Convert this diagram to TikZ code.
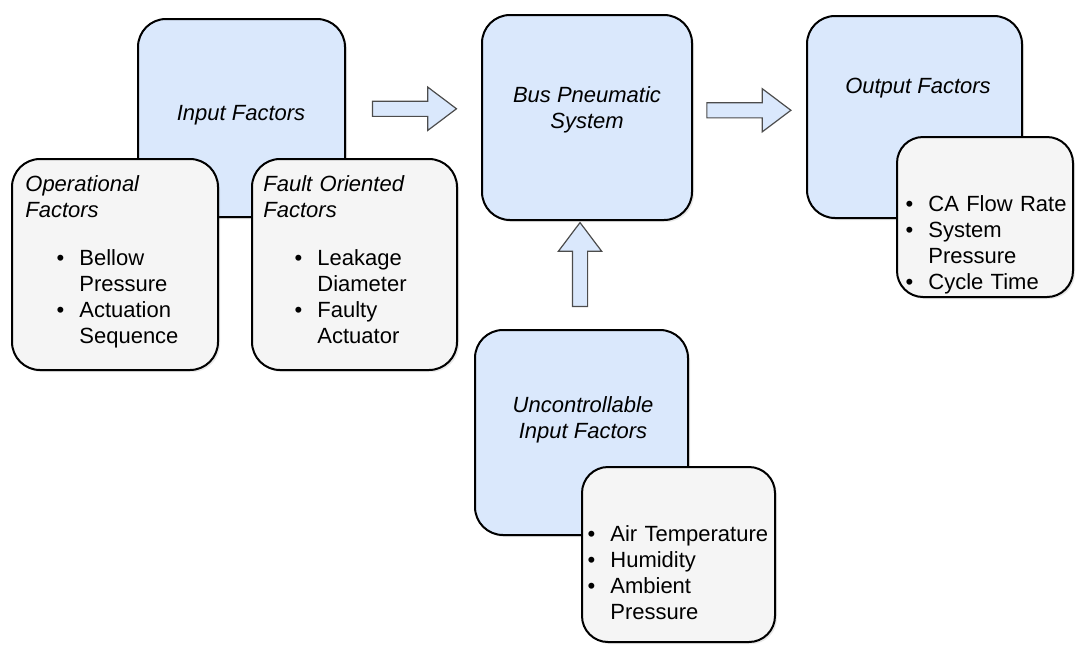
\documentclass[tikz,border=0pt]{standalone}
\usepackage{fontspec}
\setmainfont{Liberation Sans}
\usetikzlibrary{
    positioning,
    calc,
    shapes.arrows,
    shadows}

\definecolor{boxblue}{HTML}{DAE8FC}
\definecolor{boxgray}{HTML}{F5F5F5}

% bullet line with hanging indent
\newcommand{\bitem}[2][27pt]{\par\noindent\hangindent=#1\hangafter=1%
  \hbox to #1{\hss\textbullet\hspace{7.5pt}}{\let\\\newline#2}\par}

\begin{document}
\begin{tikzpicture}[x=0.5pt,y=-0.5pt,
    font=\fontsize{11}{13}\selectfont,
    factor/.style={draw,line width=1pt,rounded corners=14pt,fill=boxblue,
        drop shadow={shadow xshift=1pt,shadow yshift=-1pt,opacity=0.18}},
    detail/.style={factor,fill=boxgray},
    title/.style={align=center,font=\fontsize{11}{13}\selectfont\itshape},
    list/.style={anchor=north west,inner sep=0pt,text width=100pt,align=left},
    blockarrow/.style={single arrow,draw=black!70,line width=0.6pt,fill=boxblue,
        minimum height=42pt,inner sep=3.5pt,single arrow head extend=7pt,
        single arrow tip angle=74,single arrow head indent=0pt}]
    \useasboundingbox (0,0) rectangle (1077,644);

    % controllable inputs
    \node[factor,minimum width=103.5pt,minimum height=99pt] (input) at (241.5,118) {};
    \node[title] (input-t) at (241,115) {Input Factors};
    \node[detail,minimum width=103pt,minimum height=105.5pt] (oper) at (115,264.5) {};
    \node[list] (oper-t) at (25,175) {\textit{Operational\\Factors}\par\vspace{11pt}
        \bitem{Bellow\\Pressure}\bitem{Actuation\\Sequence}};
    \node[detail,minimum width=102.5pt,minimum height=105.5pt] (fault) at (354.5,264.5) {};
    \node[list] (fault-t) at (263,175) {\textit{Fault Oriented\\Factors}\par\vspace{11pt}
        \bitem{Leakage\\Diameter}\bitem{Faulty\\Actuator}};

    % the system
    \node[factor,minimum width=105pt,minimum height=102.5pt] (bus) at (587,117.5) {};
    \node[title] (bus-t) at (587,110) {Bus Pneumatic\\System};

    % outputs
    \node[factor,minimum width=107.5pt,minimum height=101pt] (out) at (914.5,117) {};
    \node[title] (out-t) at (918,88) {Output Factors};
    \node[detail,rounded corners=13pt,minimum width=88pt,minimum height=80pt] (outlist) at (985,217) {};
    \node[list] (outlist-t) at (903,185) {\bitem[12.5pt]{CA Flow Rate}
        \bitem[12.5pt]{System\\Pressure}\bitem[12.5pt]{Cycle Time}};

    % noise
    \node[factor,minimum width=106.5pt,minimum height=102.5pt] (unc) at (581.5,432.5) {};
    \node[title] (unc-t) at (583,420) {Uncontrollable\\Input Factors};
    \node[detail,rounded corners=13pt,minimum width=96.5pt,minimum height=87.5pt] (unclist) at (678.5,554.5) {};
    \node[list] (unclist-t) at (588,515) {\bitem[11pt]{Air Temperature}
        \bitem[11pt]{Humidity}\bitem[11pt]{Ambient\\Pressure}};

    % flow arrows
    \node[blockarrow] (in-arrow) at ($(input.east)!0.47!(bus.west)+(0,-9)$) {};
    \node[blockarrow] (out-arrow) at ($(bus.east)!0.45!(out.west)+(0,-7)$) {};
    \node[blockarrow,shape border rotate=90] (unc-arrow) at ($(unc.north)!0.55!(bus.south)+(-4.5,0)$) {};
\end{tikzpicture}
\end{document}
